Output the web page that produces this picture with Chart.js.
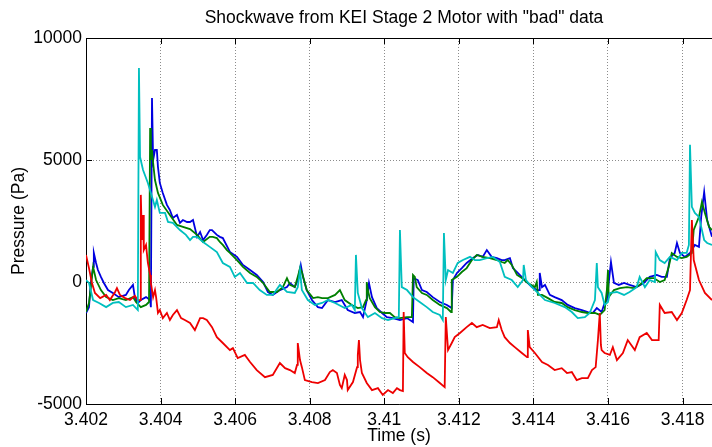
<!DOCTYPE html>
<html><head><meta charset="utf-8">
<script src="https://cdn.jsdelivr.net/npm/chart.js@4/dist/chart.umd.min.js"></script>
<style>html,body{margin:0;padding:0;background:#fff;overflow:hidden}canvas{display:block}</style>
</head><body>
<canvas id="c" width="712" height="447"></canvas>
<script>
const titleText = 'Shockwave from KEI Stage 2 Motor with "bad" data';
const xTitle = 'Time (s)';
const yTitle = 'Pressure (Pa)';
const xTicks = [3.402,3.404,3.406,3.408,3.410,3.412,3.414,3.416,3.418];
const xTickLabels = ['3.402','3.404','3.406','3.408','3.41','3.412','3.414','3.416','3.418'];
const yTicks = [-5000,0,5000,10000];
const yTickLabels = ['-5000','0','5000','10000'];

const blueT = [3.40200,3.40208,3.40213,3.40219,3.40221,3.40227,3.40232,3.40240,3.40248,3.40259,3.40272,3.40288,3.40307,3.40315,3.40326,3.40331,3.40339,3.40347,3.40361,3.40372,3.40374,3.40377,3.40380,3.40385,3.40390,3.40393,3.40398,3.40406,3.40417,3.40425,3.40433,3.40444,3.40452,3.40460,3.40471,3.40479,3.40487,3.40498,3.40506,3.40514,3.40524,3.40532,3.40538,3.40551,3.40559,3.40567,3.40586,3.40605,3.40621,3.40640,3.40658,3.40675,3.40688,3.40701,3.40720,3.40739,3.40747,3.40760,3.40768,3.40776,3.40782,3.40792,3.40806,3.40822,3.40833,3.40849,3.40868,3.40886,3.40902,3.40921,3.40935,3.40943,3.40953,3.40959,3.40967,3.40980,3.40994,3.41007,3.41023,3.41042,3.41061,3.41077,3.41079,3.41090,3.41101,3.41114,3.41130,3.41149,3.41168,3.41181,3.41184,3.41195,3.41208,3.41221,3.41238,3.41251,3.41264,3.41275,3.41288,3.41302,3.41315,3.41323,3.41337,3.41345,3.41358,3.41377,3.41396,3.41409,3.41415,3.41417,3.41423,3.41431,3.41444,3.41457,3.41476,3.41492,3.41511,3.41530,3.41546,3.41559,3.41570,3.41583,3.41591,3.41597,3.41608,3.41616,3.41629,3.41643,3.41658,3.41677,3.41696,3.41712,3.41731,3.41744,3.41758,3.41766,3.41779,3.41785,3.41793,3.41806,3.41820,3.41833,3.41844,3.41850,3.41858,3.41866,3.41879];
const blueP = [-1270,-1030,-40,620,1190,780,490,210,-40,-330,-450,-620,-530,-330,-120,-620,-860,-740,-620,-740,-1030,7540,5000,5410,5410,4720,4060,3650,3160,2950,2620,2750,2420,2540,2460,2460,2540,1850,2050,1720,1930,2130,2130,1930,1850,1800,1230,1030,700,490,290,0,-410,-530,-330,-210,-40,-210,80,700,210,-330,-740,-1030,-1070,-740,-820,-740,-1150,-1270,-1230,-1440,-740,-40,-620,-1070,-1270,-1440,-1480,-1560,-1480,-1640,160,80,-330,-410,-620,-820,-940,-1070,80,370,570,780,980,1110,1030,1310,1030,980,900,900,980,570,370,80,-210,-330,-330,370,-210,-120,-530,-620,-740,-940,-1070,-1150,-1230,-1270,-1070,-1230,-860,-740,820,-40,-120,-40,-120,-210,-40,210,290,210,210,980,1190,1600,1190,1030,1190,1520,1440,2670,3690,2540,1850];

const greenT = [3.40200,3.40208,3.40216,3.40219,3.40227,3.40240,3.40254,3.40272,3.40288,3.40307,3.40326,3.40334,3.40347,3.40361,3.40369,3.40372,3.40374,3.40377,3.40380,3.40385,3.40393,3.40406,3.40425,3.40444,3.40460,3.40479,3.40498,3.40514,3.40532,3.40540,3.40551,3.40559,3.40567,3.40578,3.40586,3.40605,3.40621,3.40640,3.40658,3.40675,3.40693,3.40712,3.40728,3.40739,3.40747,3.40760,3.40768,3.40774,3.40779,3.40792,3.40809,3.40822,3.40833,3.40849,3.40868,3.40881,3.40894,3.40913,3.40929,3.40943,3.40951,3.40953,3.40956,3.40961,3.40975,3.40988,3.41002,3.41015,3.41028,3.41042,3.41061,3.41074,3.41077,3.41082,3.41087,3.41101,3.41114,3.41130,3.41149,3.41168,3.41179,3.41181,3.41195,3.41208,3.41221,3.41235,3.41248,3.41264,3.41283,3.41302,3.41315,3.41323,3.41331,3.41342,3.41356,3.41369,3.41385,3.41404,3.41409,3.41412,3.41423,3.41439,3.41457,3.41476,3.41492,3.41511,3.41530,3.41546,3.41565,3.41578,3.41591,3.41597,3.41600,3.41602,3.41616,3.41632,3.41651,3.41669,3.41685,3.41704,3.41723,3.41739,3.41752,3.41763,3.41771,3.41785,3.41798,3.41811,3.41825,3.41830,3.41844,3.41852,3.41860,3.41871,3.41879];
const greenP = [-1230,-860,210,620,80,-330,-620,-740,-660,-740,-620,-820,-1030,-940,-820,6310,5000,5410,4880,4180,3650,3160,2750,2340,2260,2170,1930,1640,1850,1850,1800,1640,1520,1310,1190,900,620,370,210,-40,-410,-410,-210,160,-120,-210,210,570,410,-330,-660,-620,-660,-660,-530,-330,-740,-940,-1070,-1030,-740,0,-330,-660,-1030,-1230,-1270,-1270,-1440,-1480,-1440,-1440,290,210,-210,-450,-530,-740,-940,-1070,-1230,80,210,410,570,900,1110,1030,980,900,820,780,900,700,290,160,-40,-210,0,-530,-530,-660,-820,-860,-1030,-1150,-1230,-1270,-1270,-1350,-1150,-330,490,-620,-330,-250,-210,-250,-120,160,160,0,80,620,1190,1030,980,1030,1190,2130,2670,3280,2830,2260,2130];

const redT = [3.40200,3.40208,3.40216,3.40224,3.40238,3.40254,3.40264,3.40278,3.40283,3.40291,3.40305,3.40318,3.40331,3.40339,3.40345,3.40347,3.40350,3.40353,3.40355,3.40361,3.40366,3.40372,3.40374,3.40380,3.40385,3.40388,3.40393,3.40398,3.40406,3.40417,3.40425,3.40433,3.40444,3.40455,3.40465,3.40479,3.40492,3.40506,3.40514,3.40524,3.40538,3.40551,3.40567,3.40586,3.40594,3.40607,3.40626,3.40640,3.40658,3.40680,3.40701,3.40720,3.40734,3.40747,3.40760,3.40766,3.40768,3.40774,3.40779,3.40787,3.40806,3.40822,3.40841,3.40854,3.40862,3.40873,3.40881,3.40886,3.40894,3.40900,3.40902,3.40916,3.40927,3.40929,3.40932,3.40935,3.40940,3.40953,3.40967,3.40983,3.40996,3.41010,3.41023,3.41034,3.41042,3.41050,3.41052,3.41055,3.41063,3.41077,3.41095,3.41114,3.41130,3.41149,3.41162,3.41165,3.41171,3.41181,3.41189,3.41203,3.41221,3.41235,3.41248,3.41264,3.41283,3.41302,3.41307,3.41315,3.41323,3.41337,3.41350,3.41369,3.41383,3.41385,3.41390,3.41404,3.41423,3.41439,3.41457,3.41476,3.41490,3.41503,3.41516,3.41530,3.41546,3.41557,3.41567,3.41573,3.41578,3.41581,3.41583,3.41591,3.41605,3.41613,3.41624,3.41640,3.41653,3.41672,3.41685,3.41704,3.41718,3.41736,3.41739,3.41752,3.41771,3.41785,3.41798,3.41811,3.41820,3.41825,3.41830,3.41844,3.41860,3.41879];
const redP = [1110,570,-40,-450,-660,-530,-740,-410,-250,-530,-660,-740,-570,-740,-740,3570,1720,2750,1310,1520,780,290,-40,-620,-330,-620,-1270,-1150,-1480,-1270,-1560,-1350,-1150,-1480,-1560,-1680,-1970,-1480,-1480,-1560,-1850,-2260,-2500,-2790,-2710,-3120,-2990,-3280,-3610,-3900,-3810,-3320,-3530,-3610,-3730,-3400,-2500,-3200,-3490,-4020,-4100,-4140,-4020,-3690,-3610,-3730,-4220,-4350,-3810,-4020,-4430,-4100,-3490,-2990,-2380,-3200,-3730,-4140,-4430,-4350,-4630,-4430,-4550,-4350,-4430,-4470,-1230,-2910,-3080,-3280,-3490,-3730,-3900,-4140,-4310,-1440,-2790,-2500,-2260,-2090,-1850,-1680,-1850,-1760,-1890,-1850,-1560,-1970,-2260,-2500,-2670,-2910,-3080,-1970,-2670,-2910,-3280,-3400,-3610,-3530,-3730,-3690,-4020,-3940,-3940,-3610,-3490,-2380,-1270,-2580,-2790,-2910,-2990,-2670,-3200,-2910,-2380,-2790,-2260,-2090,-2380,-2380,-940,-1270,-1230,-1560,-1270,-740,-330,2540,900,80,-450,-740];

const cyanT = [3.40200,3.40208,3.40219,3.40235,3.40254,3.40272,3.40288,3.40307,3.40326,3.40339,3.40342,3.40345,3.40353,3.40366,3.40377,3.40385,3.40390,3.40398,3.40412,3.40420,3.40433,3.40452,3.40468,3.40479,3.40487,3.40498,3.40514,3.40532,3.40551,3.40567,3.40586,3.40599,3.40613,3.40632,3.40648,3.40666,3.40685,3.40701,3.40720,3.40739,3.40760,3.40768,3.40774,3.40779,3.40795,3.40814,3.40833,3.40849,3.40868,3.40894,3.40913,3.40921,3.40924,3.40929,3.40940,3.40956,3.40975,3.40994,3.41010,3.41028,3.41039,3.41042,3.41047,3.41061,3.41077,3.41095,3.41114,3.41130,3.41149,3.41157,3.41160,3.41165,3.41171,3.41184,3.41197,3.41211,3.41230,3.41243,3.41256,3.41275,3.41291,3.41310,3.41323,3.41342,3.41358,3.41372,3.41374,3.41380,3.41396,3.41412,3.41431,3.41457,3.41484,3.41503,3.41519,3.41538,3.41551,3.41565,3.41570,3.41573,3.41583,3.41591,3.41600,3.41605,3.41624,3.41643,3.41658,3.41677,3.41685,3.41699,3.41712,3.41726,3.41728,3.41739,3.41752,3.41766,3.41785,3.41798,3.41811,3.41817,3.41820,3.41825,3.41833,3.41844,3.41858,3.41866,3.41879];
const cyanP = [80,-40,-740,-860,-1030,-860,-820,-1030,-940,-1150,8770,5120,4590,4060,3490,3080,3360,2830,2830,2460,2420,2130,1930,1720,1850,1850,1640,1440,1230,780,620,210,370,-40,-40,-330,-530,-530,-120,-410,-450,-210,490,-330,-740,-940,-860,-740,-860,-1070,-940,-1150,1110,-450,-1070,-1440,-1270,-1480,-1560,-1480,-1440,2130,-210,-330,-620,-820,-1030,-1230,-1350,-1560,2010,80,490,370,780,900,1030,900,900,980,1030,820,210,80,-210,80,700,80,-210,-450,-740,-860,-1030,-1230,-1480,-1440,-1270,-740,780,-210,-450,-940,-820,-450,-410,-530,-410,-210,210,-210,80,0,1230,900,780,1030,900,1190,1190,1520,5620,3080,2830,2670,1720,1600,1520];

const FONT_FAMILY = "'Liberation Sans', Arial, Helvetica, sans-serif";
const font = {family: FONT_FAMILY, size: 17.5};
const toXY = (t, p) => t.map((x, i) => ({x: x, y: p[i]}));

const axesPlugin = {
  id: 'matlabAxes',
  beforeDatasetsDraw(chart) {
    const {ctx, chartArea: a, scales: {x, y}} = chart;
    ctx.save();
    ctx.strokeStyle = '#000';
    ctx.lineWidth = 1;
    ctx.beginPath();
    const top = Math.round(y.getPixelForValue(yTicks[yTicks.length - 1])) + 0.5;
    ctx.moveTo(a.left, top); ctx.lineTo(a.right, top);
    xTicks.forEach(v => {
      const px = Math.round(x.getPixelForValue(v)) + 0.5;
      ctx.moveTo(px, a.bottom); ctx.lineTo(px, a.bottom - 6);
      ctx.moveTo(px, a.top); ctx.lineTo(px, a.top + 6);
    });
    yTicks.forEach(v => {
      const py = Math.round(y.getPixelForValue(v)) + 0.5;
      ctx.moveTo(a.left, py); ctx.lineTo(a.left + 6, py);
    });
    ctx.stroke();
    ctx.restore();
  },
  afterDraw(chart) {
    const {ctx, chartArea: a} = chart;
    ctx.save();
    ctx.font = '17.5px ' + FONT_FAMILY;
    ctx.fillStyle = '#000';
    ctx.textAlign = 'center';
    ctx.textBaseline = 'middle';
    ctx.fillText(titleText, (a.left + a.right) / 2 + 5, 18);
    ctx.restore();
  }
};

const ds = (label, t, p, color, order) => ({
  label, data: toXY(t, p), borderColor: color, backgroundColor: color,
  borderWidth: 1.8, pointRadius: 0, tension: 0, fill: false, order
});

new Chart(document.getElementById('c'), {
  type: 'line',
  data: {
    datasets: [
      ds('Sensor 1', blueT, blueP, '#0000e0', 4),
      ds('Sensor 2', greenT, greenP, '#007f00', 3),
      ds('Sensor 3', redT, redP, '#ee0000', 2),
      ds('Sensor 4', cyanT, cyanP, '#00bfbf', 1)
    ]
  },
  options: {
    responsive: false,
    animation: false,
    devicePixelRatio: 1,
    layout: {padding: {top: 38, left: 0, right: 0, bottom: 0}},
    plugins: {legend: {display: false}, tooltip: {enabled: false}, title: {display: false}},
    scales: {
      x: {
        type: 'linear', min: 3.402, max: 3.41879,
        afterBuildTicks: s => { s.ticks = xTicks.map(v => ({value: v})); },
        afterFit: s => { s.height = 43; },
        grid: {color: '#8c8c8c', lineWidth: 1, drawTicks: false},
        border: {display: true, color: '#000', width: 1, dash: [1, 2]},
        ticks: {font, color: '#000', padding: 6, maxRotation: 0, autoSkip: false,
                callback: (v, i) => xTickLabels[i]},
        title: {display: true, text: xTitle, font, color: '#000', padding: {top: 0, bottom: 0}}
      },
      y: {
        type: 'linear', min: -5000, max: 10000,
        afterBuildTicks: s => { s.ticks = yTicks.map(v => ({value: v})); },
        afterFit: s => { s.width = 86; },
        grid: {color: '#8c8c8c', lineWidth: 1, drawTicks: false},
        border: {display: true, color: '#000', width: 1, dash: [1, 2]},
        ticks: {font, color: '#000', padding: 4, autoSkip: false,
                callback: (v, i) => yTickLabels[i]},
        title: {display: true, text: yTitle, font, color: '#000', padding: {top: 9, bottom: 0}}
      }
    }
  },
  plugins: [axesPlugin]
});
</script>
</body></html>
